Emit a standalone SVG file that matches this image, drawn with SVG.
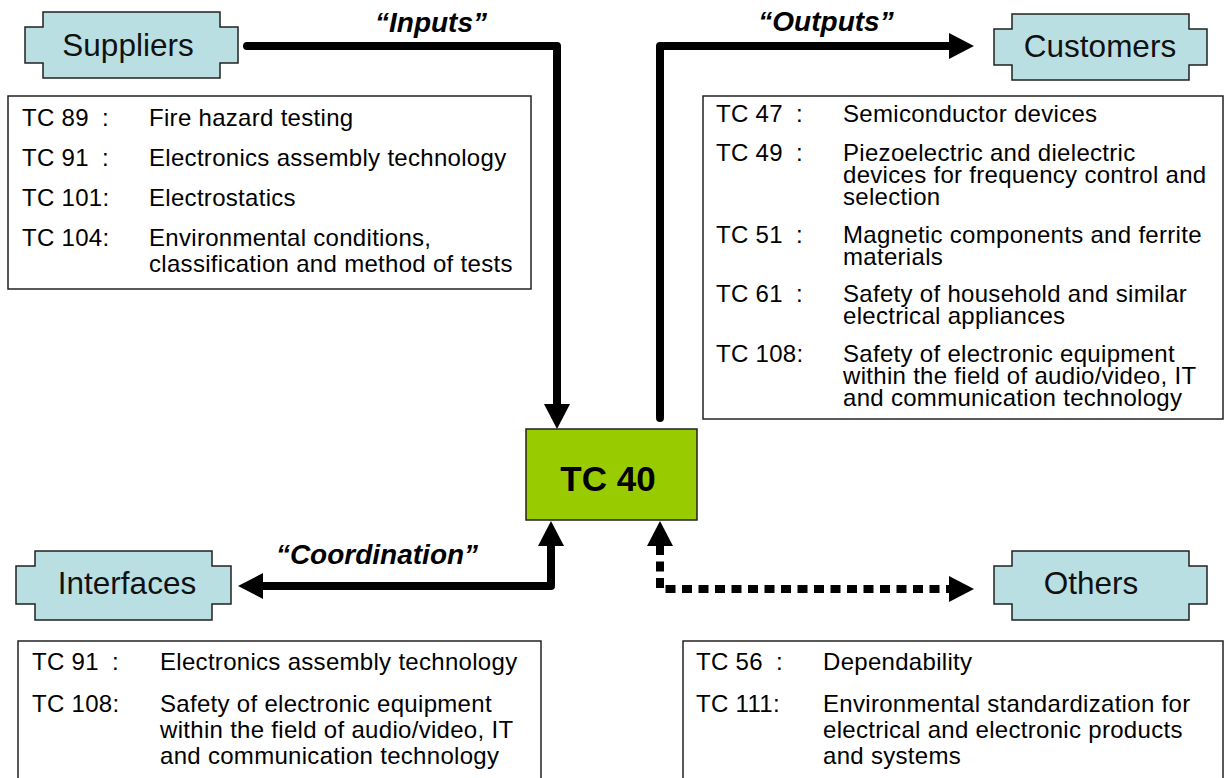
<svg xmlns="http://www.w3.org/2000/svg" width="1224" height="778" viewBox="0 0 1224 778">
<style>
  .plaque { fill: #BADFE2; stroke: #222; stroke-width: 1.5; }
  .list { fill: #fff; stroke: #222; stroke-width: 1.5; }
  .title { font-family: "Liberation Sans", Arial, sans-serif; font-size: 31.5px; fill: #111; text-anchor: middle; }
  .lbl { font-family: "Liberation Sans", Arial, sans-serif; font-size: 28px; font-weight: bold; font-style: italic; fill: #000; text-anchor: middle; }
  .t { font-family: "Liberation Sans", Arial, sans-serif; font-size: 24px; letter-spacing: 0.3px; fill: #000; }
  .conn { fill: none; stroke: #000; stroke-width: 8; stroke-linejoin: round; stroke-linecap: round; }
  .dot { fill: none; stroke: #000; stroke-width: 8; stroke-dasharray: 10 6.5; stroke-linejoin: miter; }
  .head { fill: #000; }
</style>
<defs>
  <marker id="ah" markerUnits="userSpaceOnUse" markerWidth="26" markerHeight="26" refX="1" refY="13" orient="auto-start-reverse" viewBox="0 0 26 26">
    <path class="head" d="M0,0 L25,13 L0,26 Z"/>
  </marker>
</defs>

<g id="connectors">
  <path id="inputs" class="conn" d="M247,46 H557 V405" marker-end="url(#ah)"/>
  <path id="outputs" class="conn" d="M660,418 V46 H950" marker-end="url(#ah)"/>
  <path id="coordination" class="conn" d="M262,586 H551 V545" marker-start="url(#ah)" marker-end="url(#ah)" style="stroke-linecap:butt"/>
  <path id="others-link" class="dot" d="M660,545 V589 H950" marker-start="url(#ah)" marker-end="url(#ah)"/>
  <text class="lbl" x="431" y="32">“Inputs”</text>
  <text class="lbl" x="826" y="31">“Outputs”</text>
  <text class="lbl" x="377" y="564">“Coordination”</text>
</g>

<g id="tc40">
  <rect x="526" y="429" width="171" height="91" fill="#99CC00" stroke="#222" stroke-width="1.5"/>
  <text x="608" y="491" font-family="Liberation Sans, Arial, sans-serif" font-size="35" font-weight="bold" text-anchor="middle" fill="#000">TC 40</text>
</g>

<g id="suppliers">
  <path class="plaque" d="M43,12 H220 V27 H238 V63 H220 V78 H43 V63 H25 V27 H43 Z"/>
  <text class="title" x="128" y="56">Suppliers</text>
</g>

<g id="customers">
  <path class="plaque" d="M1012,14 H1189 V29 H1207 V65 H1189 V80 H1012 V65 H994 V29 H1012 Z"/>
  <text class="title" x="1100" y="57">Customers</text>
</g>

<g id="interfaces">
  <path class="plaque" d="M35,551 H212 V566 H231 V604 H212 V620 H35 V604 H16 V566 H35 Z"/>
  <text class="title" x="127" y="594">Interfaces</text>
</g>

<g id="others">
  <path class="plaque" d="M1012,551 H1189 V566 H1207 V604 H1189 V620 H1012 V604 H994 V566 H1012 Z"/>
  <text class="title" x="1091" y="594">Others</text>
</g>

<g id="suppliers-list">
  <rect class="list" x="8" y="96" width="523" height="193"/>
  <text class="t" x="22" y="126">TC 89<tspan x="102">:</tspan></text>
  <text class="t" x="149" y="126">Fire hazard testing</text>
  <text class="t" x="22" y="166">TC 91<tspan x="102">:</tspan></text>
  <text class="t" x="149" y="166">Electronics assembly technology</text>
  <text class="t" x="22" y="206">TC 101:</text>
  <text class="t" x="149" y="206">Electrostatics</text>
  <text class="t" x="22" y="246">TC 104:</text>
  <text class="t" x="149" y="246">Environmental conditions,</text>
  <text class="t" x="149" y="272">classification and method of tests</text>
</g>

<g id="customers-list">
  <rect class="list" x="703" y="96" width="520" height="323"/>
  <text class="t" x="716" y="122">TC 47<tspan x="796">:</tspan></text>
  <text class="t" x="843" y="122">Semiconductor devices</text>
  <text class="t" x="716" y="161">TC 49<tspan x="796">:</tspan></text>
  <text class="t" x="843" y="161">Piezoelectric and dielectric</text>
  <text class="t" x="843" y="183">devices for frequency control and</text>
  <text class="t" x="843" y="205">selection</text>
  <text class="t" x="716" y="243">TC 51<tspan x="796">:</tspan></text>
  <text class="t" x="843" y="243">Magnetic components and ferrite</text>
  <text class="t" x="843" y="265">materials</text>
  <text class="t" x="716" y="302">TC 61<tspan x="796">:</tspan></text>
  <text class="t" x="843" y="302">Safety of household and similar</text>
  <text class="t" x="843" y="324">electrical appliances</text>
  <text class="t" x="716" y="362">TC 108:</text>
  <text class="t" x="843" y="362">Safety of electronic equipment</text>
  <text class="t" x="843" y="384">within the field of audio/video, IT</text>
  <text class="t" x="843" y="406">and communication technology</text>
</g>

<g id="interfaces-list">
  <rect class="list" x="18" y="641" width="523" height="140"/>
  <text class="t" x="32" y="670">TC 91<tspan x="112">:</tspan></text>
  <text class="t" x="160" y="670">Electronics assembly technology</text>
  <text class="t" x="32" y="712">TC 108:</text>
  <text class="t" x="160" y="712">Safety of electronic equipment</text>
  <text class="t" x="160" y="738">within the field of audio/video, IT</text>
  <text class="t" x="160" y="764">and communication technology</text>
</g>

<g id="others-list">
  <rect class="list" x="683" y="641" width="540" height="140"/>
  <text class="t" x="696" y="670">TC 56<tspan x="776">:</tspan></text>
  <text class="t" x="823" y="670">Dependability</text>
  <text class="t" x="696" y="712">TC 111:</text>
  <text class="t" x="823" y="712">Environmental standardization for</text>
  <text class="t" x="823" y="738">electrical and electronic products</text>
  <text class="t" x="823" y="764">and systems</text>
</g>
</svg>
